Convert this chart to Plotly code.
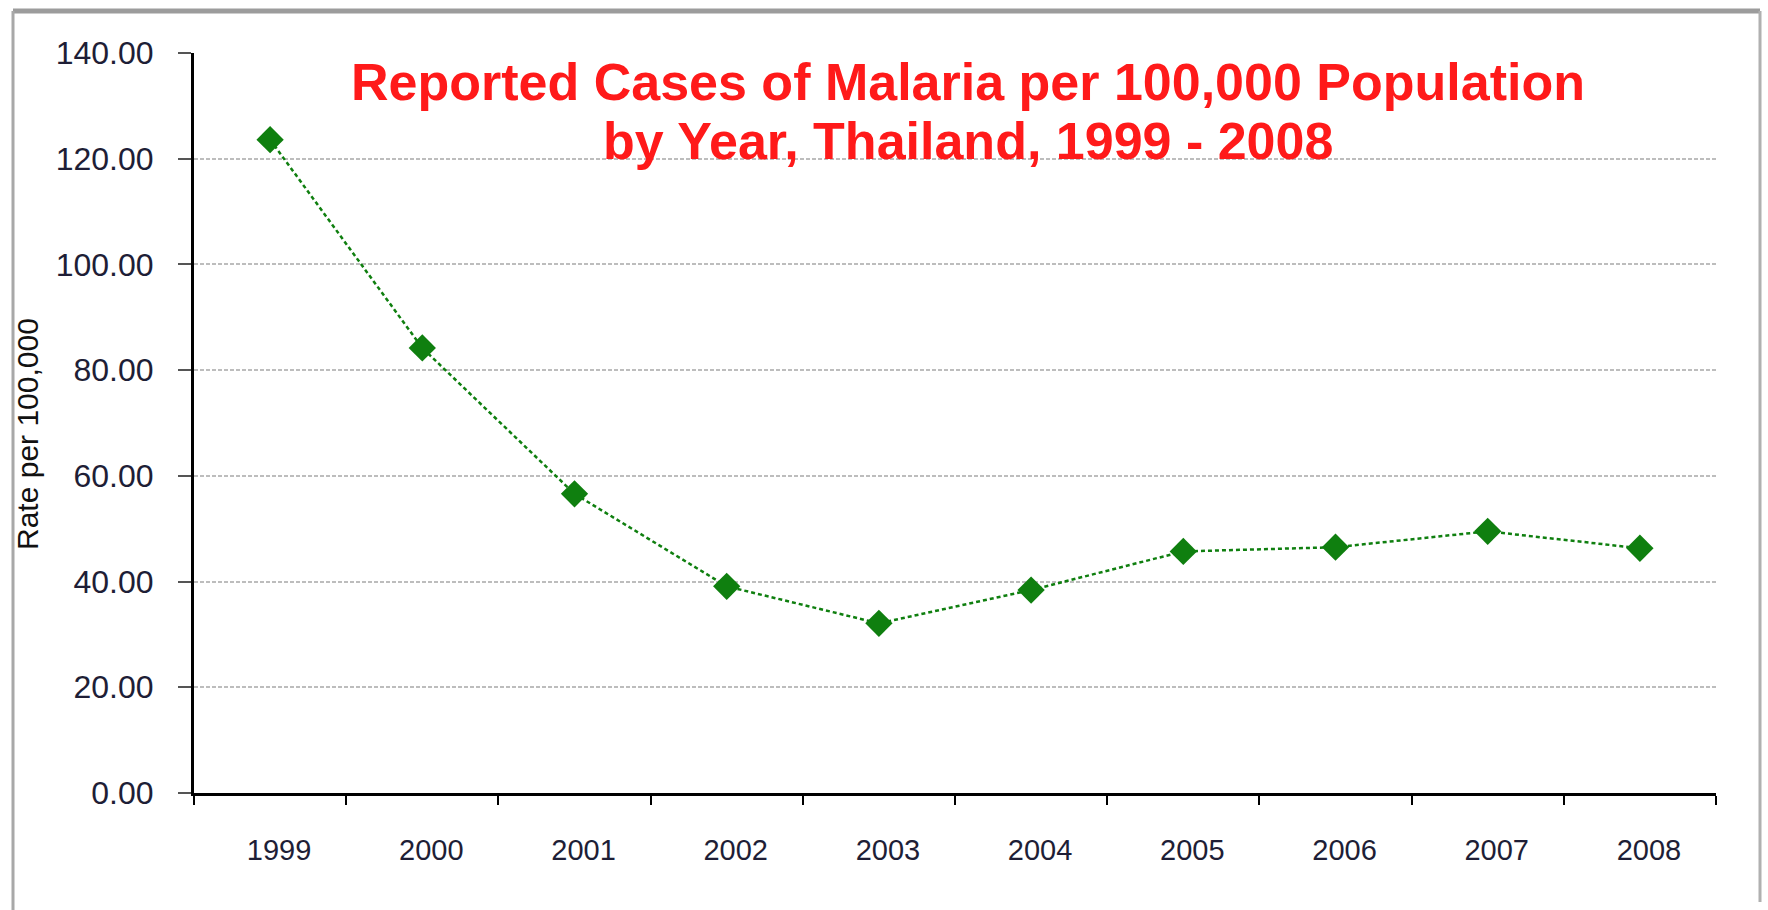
import plotly.graph_objects as go

# Reported malaria rate per 100,000 population, Thailand
years = ["1999", "2000", "2001", "2002", "2003", "2004", "2005", "2006", "2007", "2008"]
rates = [123.6, 84.2, 56.6, 39.1, 32.1, 38.4, 45.7, 46.5, 49.5, 46.3]
y_ticks = [0, 20, 40, 60, 80, 100, 120, 140]
y_tick_text = ["0.00", "20.00", "40.00", "60.00", "80.00", "100.00", "120.00", "140.00"]
title_lines = ["Reported Cases of Malaria per 100,000 Population",
               "by Year, Thailand, 1999 - 2008"]

W, H = 1768, 910
L, R, T, B = 194, 52, 53, 117
PW, PH = W - L - R, H - T - B


def px(x):
    return (x - L) / PW


def py(y):
    return (H - B - y) / PH


GREEN = "#0f7f0f"
TEXT = "#1e1e36"
FONT = "Liberation Sans, Arial, sans-serif"

fig = go.Figure()
fig.add_trace(go.Scatter(
    x=years, y=rates, mode="lines+markers",
    line=dict(color=GREEN, width=2.5, dash="4px,3px"),
    marker=dict(symbol="diamond", size=21, color=GREEN),
    showlegend=False,
))

fig.update_layout(
    width=W, height=H,
    margin=dict(l=L, r=R, t=T, b=B),
    paper_bgcolor="white", plot_bgcolor="white",
    font=dict(family=FONT, color=TEXT),
    xaxis=dict(
        type="category", range=[-0.5, 9.5],
        showline=True, linecolor="black", linewidth=3,
        ticks="outside", tickson="boundaries", ticklen=9, tickwidth=2, tickcolor="black",
        tickfont=dict(size=29, color=TEXT), showgrid=False, zeroline=False,
        ticklabelstandoff=29, ticklabelshift=9,
    ),
    yaxis=dict(
        range=[0, 140], tickvals=y_ticks, ticktext=y_tick_text,
        showline=True, linecolor="black", linewidth=3,
        ticks="outside", ticklen=13, tickwidth=2, tickcolor="#555555",
        tickfont=dict(size=32, color=TEXT),
        showgrid=True, gridcolor="#bdbdbd", gridwidth=2, griddash="4px,2px",
        zeroline=False, ticklabelstandoff=18,
    ),
)

# frame around the chart
fig.add_shape(type="line", xref="paper", yref="paper", line=dict(color="#9c9c9c", width=5),
              x0=px(13), x1=px(1760), y0=py(11), y1=py(11))
fig.add_shape(type="line", xref="paper", yref="paper", line=dict(color="#a8a8a8", width=3),
              x0=px(13), x1=px(13), y0=py(11), y1=py(910))
fig.add_shape(type="line", xref="paper", yref="paper", line=dict(color="#b0b0b0", width=3),
              x0=px(1760), x1=px(1760), y0=py(11), y1=py(902))

# chart title, two lines
for line_text, line_y in zip(title_lines, [82, 141]):
    fig.add_annotation(
        text=line_text,
        xref="paper", yref="paper", x=px(968), y=py(line_y), xanchor="center", yanchor="middle",
        showarrow=False,
        font=dict(family=FONT, size=52, color="#ff1a1a", weight="bold"),
    )

# y-axis title
fig.add_annotation(
    text="Rate per 100,000", textangle=-90,
    xref="paper", yref="paper", x=px(28), y=py(434), xanchor="center", yanchor="middle",
    showarrow=False,
    font=dict(family=FONT, size=30, color="#111111"),
)

fig.write_html("out.html")
